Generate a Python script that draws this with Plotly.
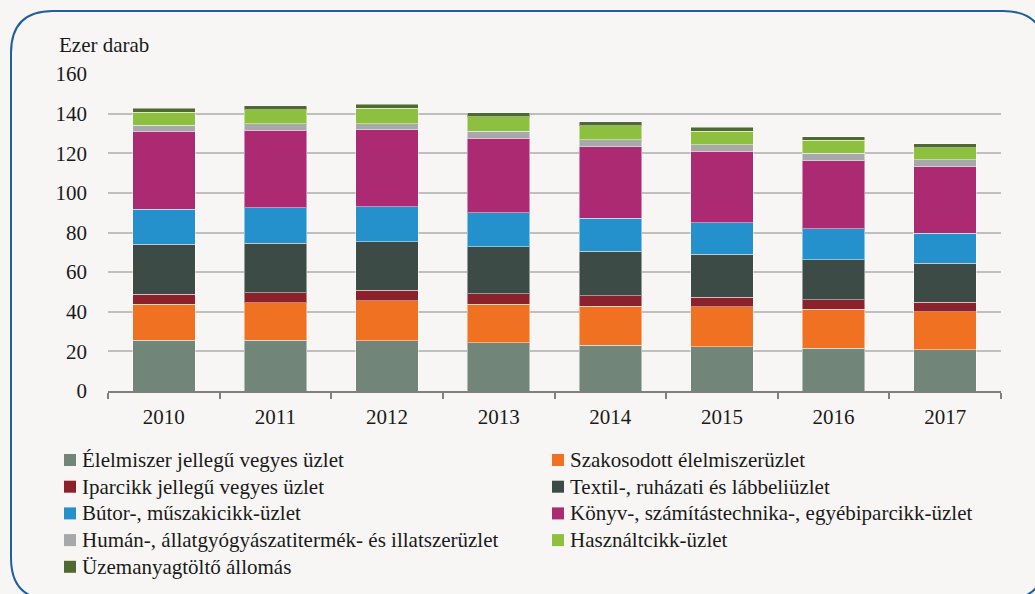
import plotly.graph_objects as go

years = ["2010", "2011", "2012", "2013", "2014", "2015", "2016", "2017"]

elelmiszer_vegyes = [25.7, 25.7, 25.4, 24.4, 23.1, 22.4, 21.5, 20.7]
szakosodott = [18.1, 18.9, 20.1, 19.4, 19.8, 20.2, 19.8, 19.4]
iparcikk_vegyes = [5.0, 5.0, 5.3, 5.2, 5.1, 4.7, 4.7, 4.7]
textil = [25.3, 25.0, 24.6, 23.9, 22.6, 21.7, 20.3, 19.7]
butor = [17.7, 18.0, 17.7, 17.1, 16.6, 16.0, 15.5, 15.1]
konyv = [39.2, 38.9, 38.7, 37.6, 36.2, 35.9, 34.5, 33.7]
human = [3.2, 3.3, 3.2, 3.6, 3.5, 3.3, 3.6, 3.5]
hasznalt = [6.6, 7.1, 7.6, 7.2, 7.1, 6.8, 6.7, 6.1]
uzemanyag = [2.0, 2.2, 2.2, 2.0, 1.9, 2.0, 1.8, 1.8]

series = [
    ("Élelmiszer jellegű vegyes üzlet", elelmiszer_vegyes, "#718679"),
    ("Szakosodott élelmiszerüzlet", szakosodott, "#F07122"),
    ("Iparcikk jellegű vegyes üzlet", iparcikk_vegyes, "#8B212A"),
    ("Textil-, ruházati és lábbeliüzlet", textil, "#3C4B45"),
    ("Bútor-, műszakicikk-üzlet", butor, "#2490CC"),
    ("Könyv-, számítástechnika-, egyébiparcikk-üzlet", konyv, "#AC2A71"),
    ("Humán-, állatgyógyászatitermék- és illatszerüzlet", human, "#A6A8A9"),
    ("Használtcikk-üzlet", hasznalt, "#8DC03F"),
    ("Üzemanyagtöltő állomás", uzemanyag, "#4E6A30"),
]

FONT = "Liberation Serif, DejaVu Serif, serif"
TXT = "#1a1a1a"
BG = "#F7F6F4"
W, H = 1035, 594
L, R, T, B = 108, 34, 74, 203
PW, PH = W - L - R, H - T - B

def px(x):
    return (x - L) / PW

def py(y):
    return (H - B - y) / PH

fig = go.Figure()
for name, vals, col in series:
    fig.add_trace(go.Bar(
        x=years, y=vals, name=name, showlegend=False,
        marker=dict(color=col, line=dict(color="rgba(255,255,255,0.45)", width=1)),
    ))

# rounded frame
l, t, r, b, rad = 11, 11, 1045, 600, 42
path = (
    f"M {px(l)},{py(t+rad)} Q {px(l)},{py(t)} {px(l+rad)},{py(t)} "
    f"L {px(r-rad)},{py(t)} Q {px(r)},{py(t)} {px(r)},{py(t+rad)} "
    f"L {px(r)},{py(b-rad)} Q {px(r)},{py(b)} {px(r-rad)},{py(b)} "
    f"L {px(l+rad)},{py(b)} Q {px(l)},{py(b)} {px(l)},{py(b-rad)} Z"
)
shapes = [dict(type="path", xref="paper", yref="paper", path=path,
               line=dict(color="#1F5FA0", width=2), layer="below")]
annotations = [dict(text="Ezer darab", xref="paper", yref="paper",
                    x=px(57), y=py(45), xanchor="left", yanchor="middle",
                    showarrow=False, font=dict(family=FONT, size=21, color=TXT))]

# legend (two columns, row-wise order)
col_x = [64, 552]
row_y0, row_dy, sq = 460, 26.7, 12
for i, (name, vals, col) in enumerate(series):
    cx = col_x[i % 2]
    cy = row_y0 + (i // 2) * row_dy
    shapes.append(dict(type="rect", xref="paper", yref="paper",
                       x0=px(cx), x1=px(cx + sq), y0=py(cy - sq / 2), y1=py(cy + sq / 2),
                       fillcolor=col, line=dict(width=0)))
    annotations.append(dict(text=name, xref="paper", yref="paper",
                            x=px(cx + sq + 4), y=py(cy), xanchor="left", yanchor="middle",
                            showarrow=False, font=dict(family=FONT, size=21, color=TXT)))

fig.update_layout(
    width=W, height=H,
    margin=dict(l=L, r=R, t=T, b=B, autoexpand=False),
    barmode="stack",
    bargap=0.44,
    showlegend=False,
    paper_bgcolor=BG,
    plot_bgcolor=BG,
    font=dict(family=FONT, size=21, color=TXT),
    shapes=shapes,
    annotations=annotations,
    xaxis=dict(
        showgrid=False, showline=True, linecolor="#7F7F7F", linewidth=1.5,
        ticks="outside", tickson="boundaries", ticklen=6, tickcolor="#7F7F7F",
        tickwidth=1.5, ticklabelstandoff=6, tickfont=dict(family=FONT, size=21, color=TXT),
    ),
    yaxis=dict(
        range=[0, 160], dtick=20, showgrid=True, gridcolor="#BFBFBF", gridwidth=1.5,
        zeroline=False, showline=False, ticks="", ticklabelstandoff=20,
        tickfont=dict(family=FONT, size=21, color=TXT),
    ),
)

fig.write_html(
    "out.html",
    config={"displayModeBar": False},
    post_script="document.body.style.margin='0';document.body.style.background='%s';"
                "document.body.style.overflow='hidden';" % BG,
)
